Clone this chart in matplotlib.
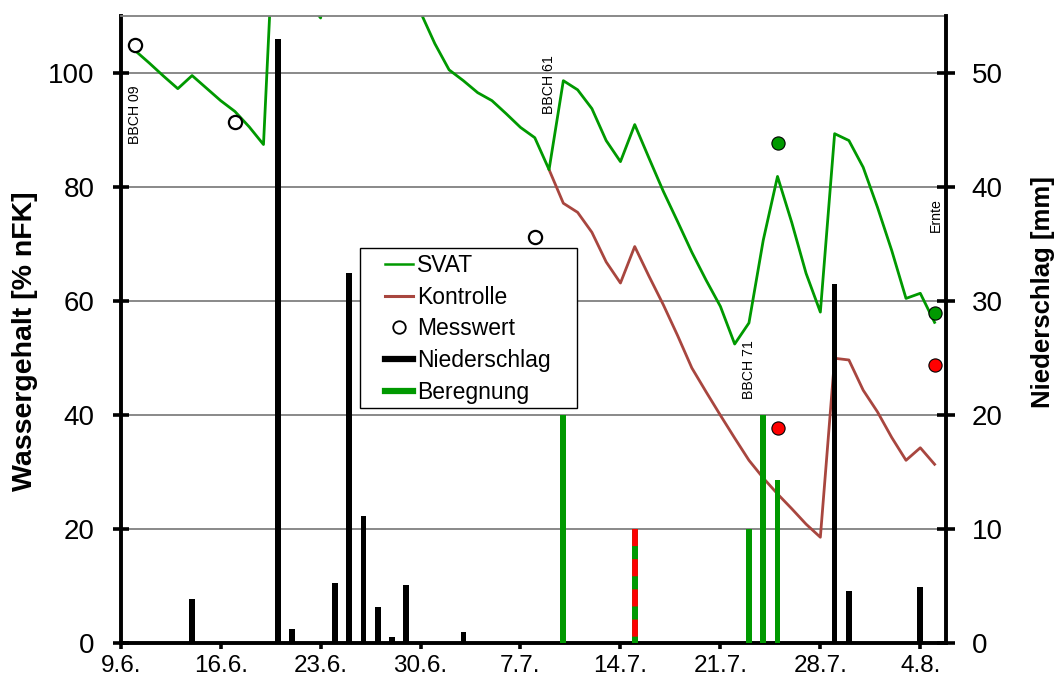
import numpy as np
import matplotlib.pyplot as plt
from matplotlib.lines import Line2D
from matplotlib.patches import Rectangle

plt.rcParams['font.family'] = ['Liberation Sans', 'DejaVu Sans']

# days after 9 June
tick_days = [0, 7, 14, 21, 28, 35, 42, 49, 56]
tick_labels = ['9.6.', '16.6.', '23.6.', '30.6.', '7.7.', '14.7.', '21.7.', '28.7.', '4.8.']

svat_days = np.arange(1, 58)
svat = [103.9, 101.7, 99.4, 97.2, 99.5, 97.3, 95.1, 93.2, 90.5, 87.4,
        140.0, 128.0, 113.0, 109.6, 125.0, 150.0, 145.0, 135.0, 125.0, 117.0,
        110.6, 105.1, 100.5, 98.6, 96.5, 95.1, 92.8, 90.4, 88.6, 83.0,
        98.6, 97.0, 93.7, 88.1, 84.4, 90.9, 85.0, 79.2, 73.9, 68.5,
        63.6, 59.0, 52.4, 56.1, 70.6, 81.8, 73.7, 64.8, 58.0, 89.3,
        88.1, 83.4, 76.4, 68.8, 60.4, 61.3, 56.2]

kontrolle_days = np.arange(30, 58)
kontrolle = [83.0, 77.1, 75.5, 72.0, 66.8, 63.1, 69.5, 64.3, 59.3, 53.9,
             48.2, 44.0, 39.9, 35.9, 32.0, 28.9, 26.1, 23.5, 20.8, 18.5,
             49.9, 49.6, 44.3, 40.5, 36.0, 32.0, 34.2, 31.3]

mess_days = [1, 8, 29]
mess = [104.9, 91.4, 71.1]
mess_svat_days = [46, 57]
mess_svat = [87.6, 57.8]
mess_kontrolle_days = [46, 57]
mess_kontrolle = [37.7, 48.8]

regen_days = [5, 11, 12, 15, 16, 17, 18, 19, 20, 24, 50, 51, 56]
regen = [3.8, 53.0, 1.2, 5.2, 32.4, 11.1, 3.1, 0.5, 5.1, 0.9, 31.5, 4.5, 4.9]

beregnung_days = [31, 44, 45, 46]
beregnung = [20, 10, 20, 14.3]
beregnung_beide_days = [36]
beregnung_beide = [10]

phase_labels = ['BBCH 09', 'BBCH 61', 'BBCH 71', 'Ernte']
phase_days = [1, 30, 44, 57.1]
phase_top = [97.8, 103.1, 53.1, 78.0]

green = '#009900'
brown = '#A8463F'

fig = plt.figure(figsize=(10.57, 6.8), dpi=100)
ax = fig.add_axes([120.7/1057, 37.3/680, 825.3/1057, 627/680])
ax2 = ax.twinx()

ax.plot(kontrolle_days, kontrolle, color=brown, lw=2)
ax.plot(svat_days, svat, color=green, lw=2)
ax.plot(mess_days, mess, 'o', ms=9.5, mfc='white', mec='black', mew=1.6)
ax.plot(mess_svat_days, mess_svat, 'o', ms=9.5, mfc=green, mec='black', mew=0.8)
ax.plot(mess_kontrolle_days, mess_kontrolle, 'o', ms=9.5, mfc='red', mec='black', mew=0.8)

for lab, d, t in zip(phase_labels, phase_days, phase_top):
    ax.text(d, t, lab, rotation=90, ha='center', va='top', fontsize=10.2)

ax2.bar(regen_days, regen, width=0.4, color='black')
ax2.bar(beregnung_days, beregnung, width=0.4, color=green)
ax2.bar(beregnung_beide_days, beregnung_beide, width=0.4, color=green)
# red/green striped bar: both variants irrigated; dashes start at the top
ax2.vlines(beregnung_beide_days, beregnung_beide, 0, colors='red', lw=4.1,
           linestyles=(0, (3.0, 2.3)))

ax.set_xlim(0, 57.8)
ax.set_ylim(0, 110)
ax2.set_ylim(0, 55)
ax.set_yticks([0, 20, 40, 60, 80, 100])
ax2.set_yticks([0, 10, 20, 30, 40, 50])
ax.set_xticks(tick_days)
ax.set_xticklabels(tick_labels)

ax.yaxis.grid(True, color='#808080', lw=1.3)
ax.set_axisbelow(True)

for s in ['left', 'bottom']:
    ax.spines[s].set_linewidth(2.8)
ax.spines['right'].set_visible(False)
ax.spines['top'].set_color('#808080')
ax.spines['top'].set_linewidth(1.3)
ax2.spines['right'].set_linewidth(2.8)
for s in ['left', 'bottom', 'top']:
    ax2.spines[s].set_visible(False)

ax.tick_params(axis='y', direction='inout', length=12, width=2.6, labelsize=20, pad=13)
ax2.tick_params(axis='y', direction='inout', length=13, width=2.6, labelsize=20, pad=12)
ax.tick_params(axis='x', direction='out', length=4.5, width=2.6, labelsize=17.5, pad=4.5)

fig.text(25/1057, 1 - 341.5/680, 'Wassergehalt [% nFK]', rotation=90, ha='center',
         va='center', fontsize=20.5, fontweight='bold')
fig.text(1043/1057, 1 - 292/680, 'Niederschlag [mm]', rotation=90, ha='center',
         va='center', fontsize=18.5, fontweight='bold')

ax2.add_patch(Rectangle((0.29, 0.3743), 0.263, 0.2552, transform=ax.transAxes,
                        facecolor='white', edgecolor='black', lw=1.0, zorder=5))
handles = [Line2D([], [], color=green, lw=1.8),
           Line2D([], [], color=brown, lw=2.2),
           Line2D([], [], marker='o', ls='none', ms=9, mfc='white', mec='black', mew=1.3),
           Line2D([], [], color='black', lw=4.5),
           Line2D([], [], color=green, lw=4.5)]
labels = ['SVAT', 'Kontrolle', 'Messwert', 'Niederschlag', 'Beregnung']
leg = ax2.legend(handles, labels, loc='upper left', bbox_to_anchor=(0.3203, 0.62),
                 bbox_transform=ax.transAxes, frameon=False, fontsize=16.5,
                 handlelength=1.2, handletextpad=0.2, labelspacing=0.38,
                 borderpad=0, borderaxespad=0)
leg.set_zorder(6)

fig.savefig('out.png', dpi=100)
